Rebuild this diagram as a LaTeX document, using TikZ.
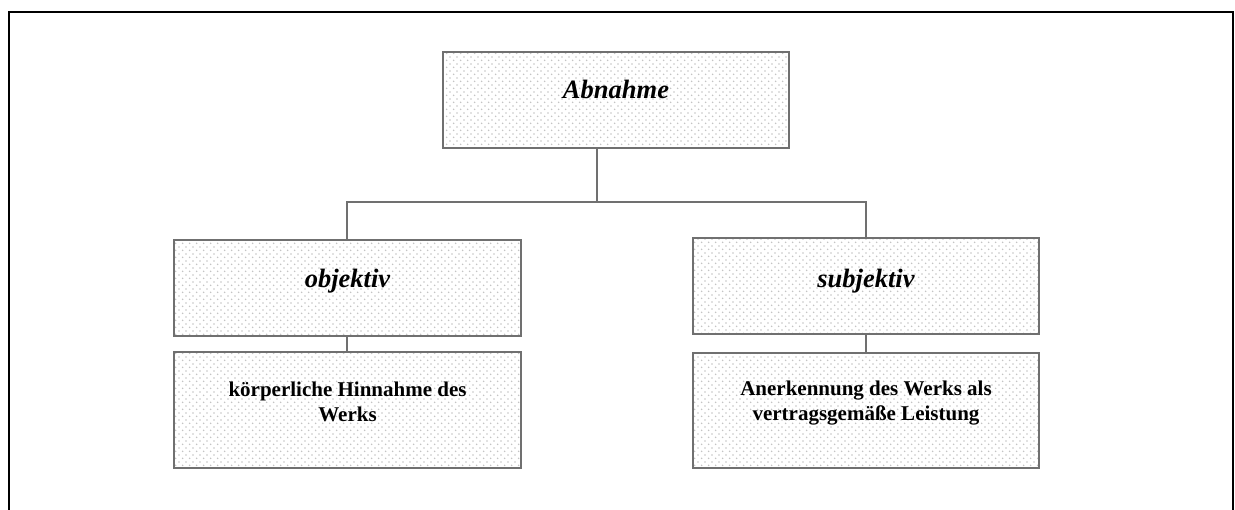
\documentclass[tikz,border=0pt]{standalone}
\usepackage{fontspec}
\setmainfont{Liberation Serif}
\usetikzlibrary{patterns}
\pgfdeclarepatternformonly{mydots}{\pgfqpoint{0pt}{0pt}}{\pgfqpoint{7.3pt}{7.3pt}}{\pgfqpoint{7.3pt}{7.3pt}}{%
  \pgfpathcircle{\pgfqpoint{1.8pt}{1.8pt}}{0.95pt}%
  \pgfpathcircle{\pgfqpoint{5.45pt}{5.45pt}}{0.95pt}%
  \pgfusepath{fill}}
\definecolor{boxline}{HTML}{707070}
\definecolor{dotcol}{HTML}{C4C4C4}
\tikzset{
  box/.style={draw=boxline, line width=1.6pt, pattern=mydots, pattern color=dotcol},
  conn/.style={draw=boxline, line width=1.5pt},
  head/.style={font=\fontsize{26.5}{30}\selectfont\bfseries\itshape, inner sep=0pt},
  body/.style={font=\fontsize{21}{25}\selectfont\bfseries, align=center, inner sep=0pt}
}
\begin{document}
\begin{tikzpicture}[x=1pt,y=-1pt]
\useasboundingbox (0,0) rectangle (1235,510);
\draw[line width=2pt] (9,530) -- (9,12) -- (1233,12) -- (1233,530);
% boxes
\draw[box] (443,52) rectangle (789,148) node[midway] (top) {};
\draw[box] (174,240) rectangle (521,336) node[midway] (obj) {};
\draw[box] (174,352) rectangle (521,468) node[midway] (objd) {};
\draw[box] (693,238) rectangle (1039,334) node[midway] (sub) {};
\draw[box] (693,353) rectangle (1039,468) node[midway] (subd) {};
% coordinates for edges
\coordinate (topb) at (597,148);
\coordinate (bus) at (597,202);
\coordinate (objt) at (347,240);
\coordinate (objb) at (347,336);
\coordinate (objdt) at (347,352);
\coordinate (subt) at (866,238);
\coordinate (subb) at (866,334);
\coordinate (subdt) at (866,353);
% connectors
\draw[conn] (topb) -- (bus);
\draw[conn] (objt) |- (bus) -| (subt);
\draw[conn] (objb) -- (objdt);
\draw[conn] (subb) -- (subdt);
% texts
\node[head, anchor=base] (ttop) at (616,99) {Abnahme};
\node[head, anchor=base] (tobj) at (347.5,288) {objektiv};
\node[head, anchor=base] (tsub) at (866,288) {subjektiv};
\node[body] (tobjd) at (347.5,401.5) {körperliche Hinnahme des\\Werks};
\node[body] (tsubd) at (866,403.3) {Anerkennung des Werks als\\vertragsgemäße Leistung};
\end{tikzpicture}
\end{document}
